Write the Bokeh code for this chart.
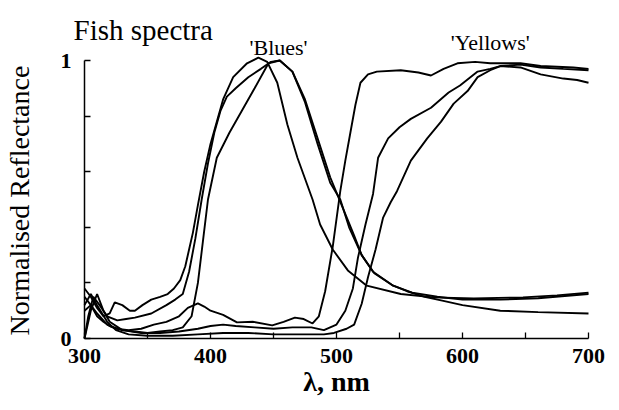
from bokeh.plotting import figure
from bokeh.models import Range1d, FixedTicker, Label, LinearAxis
from bokeh.embed import file_html
from bokeh.resources import INLINE

# ---- data ----
p_wl = [300, 305, 310, 315, 320, 324, 330, 336, 340, 346, 353, 360, 366, 371, 376, 380, 383, 386, 390, 395, 400, 405, 410, 418, 429, 438, 445, 453, 461, 469, 481, 487, 497, 509, 524, 551, 577, 609, 648, 675, 700]
p_val = [0.18, 0.15, 0.11, 0.08, 0.09, 0.13, 0.12, 0.10, 0.10, 0.12, 0.14, 0.15, 0.16, 0.18, 0.21, 0.26, 0.32, 0.38, 0.48, 0.60, 0.70, 0.78, 0.86, 0.94, 0.99, 1.01, 0.995, 0.92, 0.77, 0.65, 0.50, 0.41, 0.32, 0.245, 0.19, 0.16, 0.148, 0.144, 0.148, 0.155, 0.165]

q_wl = [300, 303, 307, 312, 318, 326, 333, 340, 353, 365, 372, 378, 383, 388, 393, 398, 403, 408, 413, 420, 430, 440, 448, 455, 465, 475, 485, 495, 503, 510, 520, 530, 545, 560, 580, 600, 630, 660, 700]
q_val = [0.0, 0.08, 0.15, 0.12, 0.08, 0.065, 0.07, 0.075, 0.09, 0.12, 0.14, 0.16, 0.24, 0.36, 0.50, 0.63, 0.74, 0.82, 0.87, 0.90, 0.94, 0.97, 0.995, 1.0, 0.96, 0.85, 0.70, 0.56, 0.50, 0.40, 0.30, 0.235, 0.19, 0.165, 0.15, 0.14, 0.14, 0.145, 0.16]

r_wl = [300, 305, 310, 315, 320, 330, 340, 350, 360, 370, 378, 385, 390, 394, 398, 405, 415, 425, 435, 446, 455, 465, 475, 485, 495, 505, 514, 520, 529, 545, 556, 570, 583, 600, 630, 660, 700]
r_val = [0.15, 0.12, 0.08, 0.06, 0.045, 0.03, 0.025, 0.02, 0.025, 0.03, 0.04, 0.08, 0.20, 0.35, 0.50, 0.65, 0.74, 0.82, 0.90, 0.99, 1.0, 0.96, 0.86, 0.72, 0.58, 0.47, 0.37, 0.30, 0.24, 0.19, 0.17, 0.15, 0.137, 0.12, 0.10, 0.095, 0.09]

y1_wl = [300, 305, 310, 318, 325, 335, 345, 355, 365, 375, 382, 390, 395, 400, 410, 421, 434, 449, 458, 467, 474, 481, 486, 491, 497, 503, 507, 511, 515, 519, 525, 532, 551, 565, 575, 585, 596, 610, 622, 646, 662, 688, 700]
y1_val = [0.10, 0.12, 0.09, 0.05, 0.035, 0.03, 0.035, 0.05, 0.06, 0.08, 0.11, 0.126, 0.115, 0.10, 0.085, 0.058, 0.06, 0.047, 0.06, 0.075, 0.07, 0.054, 0.08, 0.17, 0.33, 0.53, 0.64, 0.74, 0.84, 0.92, 0.95, 0.96, 0.965, 0.957, 0.946, 0.97, 0.99, 0.995, 0.99, 0.99, 0.98, 0.975, 0.97]

y2_wl = [300, 305, 310, 315, 320, 330, 345, 360, 375, 390, 400, 410, 420, 435, 450, 465, 480, 490, 500, 507, 513, 517, 523, 529, 533, 541, 550, 559, 575, 589, 598, 612, 622, 630, 646, 662, 680, 700]
y2_val = [0.0, 0.10, 0.16, 0.10, 0.06, 0.03, 0.02, 0.02, 0.025, 0.035, 0.045, 0.05, 0.045, 0.04, 0.035, 0.04, 0.04, 0.03, 0.05, 0.10, 0.18, 0.29, 0.41, 0.52, 0.65, 0.72, 0.76, 0.79, 0.83, 0.885, 0.91, 0.96, 0.97, 0.98, 0.985, 0.975, 0.97, 0.965]

y3_wl = [300, 305, 310, 318, 325, 335, 350, 370, 390, 410, 430, 450, 470, 490, 498, 508, 514, 520, 525, 531, 537, 543, 548, 559, 572, 583, 593, 604, 612, 622, 630, 646, 662, 680, 691, 700]
y3_val = [0.12, 0.16, 0.12, 0.06, 0.03, 0.015, 0.01, 0.01, 0.015, 0.02, 0.02, 0.015, 0.015, 0.015, 0.02, 0.035, 0.05, 0.125, 0.22, 0.32, 0.435, 0.49, 0.53, 0.64, 0.72, 0.78, 0.845, 0.89, 0.94, 0.965, 0.98, 0.975, 0.95, 0.935, 0.93, 0.92]

x_ticks = [300, 400, 500, 600, 700]
x_minor = [350, 450, 550, 650]
y_ticks = [0, 1]
y_minor = [0.2, 0.4, 0.6, 0.8]

SERIF = "Liberation Serif"
PX = 1.26   # pixels per nm
PY = 278    # pixels per unit reflectance

p = figure(width=619, height=410, output_backend="svg", toolbar_location=None,
           x_range=Range1d(300 - 31 / PX, 300 + 535 / PX),
           y_range=Range1d(-62 / PY, 1 + 60 / PY),
           min_border_left=53, min_border_right=0, min_border_top=0, min_border_bottom=10)
p.outline_line_color = None
p.grid.grid_line_color = None
p.background_fill_color = "white"
p.border_fill_color = "white"

for wl, val in [(p_wl, p_val), (q_wl, q_val), (r_wl, r_val), (y1_wl, y1_val), (y2_wl, y2_val), (y3_wl, y3_val)]:
    p.line(wl, val, line_color="black", line_width=1.9)

# x axis, fixed at reflectance 0
xa = p.xaxis[0]
xa.ticker = FixedTicker(ticks=x_ticks, minor_ticks=x_minor)
xa.bounds = (300, 700)
xa.fixed_location = 0

# default left axis only carries the axis title
ylab = p.yaxis[0]
ylab.ticker = FixedTicker(ticks=[])
ylab.axis_line_color = None
ylab.major_tick_line_color = None
ylab.minor_tick_line_color = None
ylab.major_label_text_font_size = "0px"
ylab.axis_label = "Normalised Reflectance"
ylab.axis_label_text_font = SERIF
ylab.axis_label_text_font_size = "28px"
ylab.axis_label_text_font_style = "normal"
ylab.axis_label_text_color = "black"
ylab.axis_label_standoff = 19

# real y axis, fixed at 300 nm
ya = LinearAxis(fixed_location=300, ticker=FixedTicker(ticks=y_ticks, minor_ticks=y_minor), bounds=(0, 1))
p.add_layout(ya, "left")

for ax in (xa, ya):
    ax.axis_line_color = "black"
    ax.axis_line_width = 1.5
    ax.major_tick_in = 6
    ax.major_tick_out = 0
    ax.minor_tick_in = 6
    ax.minor_tick_out = 0
    ax.major_tick_line_width = 1.3
    ax.minor_tick_line_width = 1.3
    ax.major_label_text_font = SERIF
    ax.major_label_text_font_size = "22px"
    ax.major_label_text_font_style = "bold"
    ax.major_label_text_color = "black"
    ax.axis_label_text_font = SERIF
    ax.axis_label_text_color = "black"

xa.major_label_standoff = 10
xa.axis_label = "λ, nm"
xa.axis_label_text_font_size = "28px"
xa.axis_label_text_font_style = "bold"
xa.axis_label_standoff = 0
ya.major_label_standoff = 13

p.add_layout(Label(x=300 - 11 / PX, y=1.108, text="Fish spectra", text_font=SERIF,
                   text_font_size="29px", text_color="black", text_baseline="alphabetic"))
p.add_layout(Label(x=454, y=1.047, text="'Blues'", text_font=SERIF, text_align="center",
                   text_font_size="22px", text_color="black", text_baseline="alphabetic"))
p.add_layout(Label(x=622, y=1.065, text="'Yellows'", text_font=SERIF, text_align="center",
                   text_font_size="22px", text_color="black", text_baseline="alphabetic"))

open("out.html", "w").write(file_html(p, INLINE))
